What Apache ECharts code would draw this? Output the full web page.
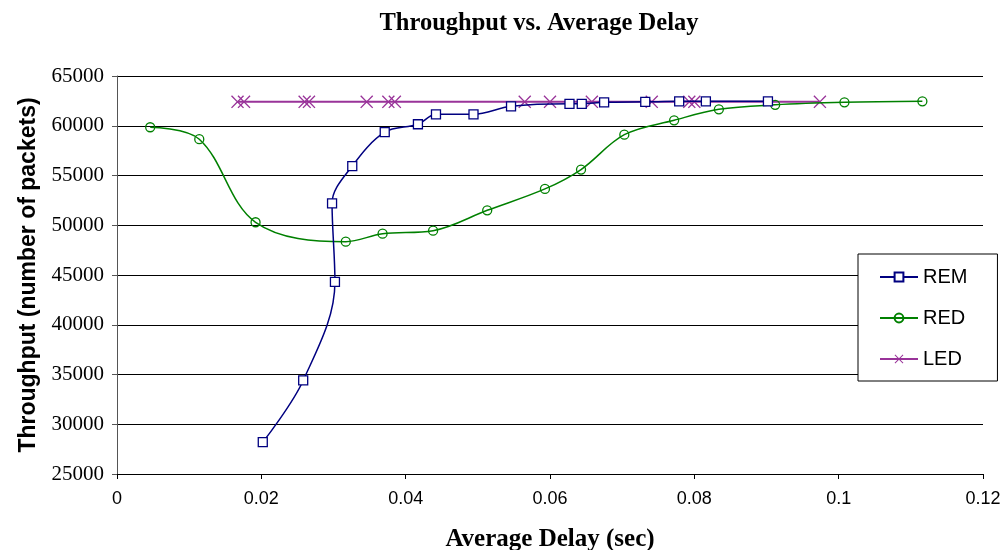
<!DOCTYPE html>
<html>
<head>
<meta charset="utf-8">
<script src="https://cdn.jsdelivr.net/npm/echarts@6/dist/echarts.min.js"></script>
<style>
html,body{margin:0;padding:0;background:#fff;}
#chart{width:1002px;height:550px;}
</style>
</head>
<body>
<div id="chart"></div>
<script>
// ---- data ----
const remX = [0.0202, 0.0258, 0.0302, 0.0298, 0.0326, 0.0371, 0.0417, 0.0442, 0.0494, 0.0546, 0.0627, 0.0644, 0.0675, 0.0732, 0.0779, 0.0816, 0.0902];
const remY = [28200, 34400, 44300, 52200, 55950, 59350, 60150, 61150, 61150, 61950, 62200, 62200, 62350, 62400, 62450, 62450, 62450];

const redX = [0.0046, 0.0114, 0.0192, 0.0317, 0.0368, 0.0438, 0.0513, 0.0593, 0.0643, 0.0703, 0.0772, 0.0834, 0.0912, 0.1008, 0.1116];
const redY = [59850, 58650, 50300, 48350, 49150, 49450, 51500, 53650, 55600, 59100, 60550, 61650, 62100, 62350, 62450];

const ledX = [0.0167, 0.0176, 0.0260, 0.0266, 0.0346, 0.0376, 0.0385, 0.0565, 0.0600, 0.0658, 0.0741, 0.0793, 0.0800, 0.0974];
const ledY = [62400, 62400, 62400, 62400, 62400, 62400, 62400, 62400, 62400, 62400, 62400, 62400, 62400, 62400];

const seriesNames = ['REM', 'RED', 'LED'];
const yTicks = [25000, 30000, 35000, 40000, 45000, 50000, 55000, 60000, 65000];
const xTicks = [0, 0.02, 0.04, 0.06, 0.08, 0.1, 0.12];

const pairs = (xs, ys) => xs.map((x, i) => [x, ys[i]]);

const xSymbol = 'path://M0,1.5L1.5,0L10,8.5L18.5,0L20,1.5L11.5,10L20,18.5L18.5,20L10,11.5L1.5,20L0,18.5L8.5,10Z';

const chart = echarts.init(document.getElementById('chart'), null, {renderer: 'canvas'});
chart.setOption({
  animation: false,
  backgroundColor: '#fff',
  title: {
    text: 'Throughput vs. Average Delay',
    left: 534,
    textAlign: 'center',
    top: 6,
    textStyle: {fontFamily: '"Liberation Serif", "Times New Roman", serif', fontWeight: 'bold', fontSize: 24.5, color: '#000'}
  },
  grid: {left: 117, right: 19, top: 76, bottom: 76, containLabel: false, outerBoundsMode: 'none'},
  legend: {
    orient: 'vertical',
    left: 858,
    top: 254,
    padding: [13, 30, 12, 21],
    itemGap: 21,
    itemWidth: 38,
    itemHeight: 11,
    backgroundColor: '#fff',
    borderColor: '#000',
    borderWidth: 1,
    borderRadius: 0,
    textStyle: {fontFamily: '"Liberation Sans", Arial, sans-serif', fontSize: 20, color: '#000'},
    data: seriesNames
  },
  xAxis: {
    type: 'value',
    min: xTicks[0],
    max: xTicks[xTicks.length - 1],
    interval: 0.02,
    name: 'Average Delay (sec)',
    nameLocation: 'middle',
    nameGap: 53,
    nameTextStyle: {fontFamily: '"Liberation Serif", "Times New Roman", serif', fontWeight: 'bold', fontSize: 25, color: '#000'},
    axisLine: {show: true, onZero: false, lineStyle: {color: '#000', width: 1}},
    axisTick: {show: true, length: 5, inside: false, lineStyle: {color: '#000'}},
    axisLabel: {margin: 16, fontFamily: '"Liberation Sans", Arial, sans-serif', fontSize: 18, color: '#000'},
    splitLine: {show: false}
  },
  yAxis: {
    type: 'value',
    min: yTicks[0],
    max: yTicks[yTicks.length - 1],
    interval: 5000,
    name: 'Throughput (number of packets)',
    nameLocation: 'middle',
    nameGap: 73,
    nameTextStyle: {fontFamily: '"Liberation Sans", Arial, sans-serif', fontWeight: 'bold', fontSize: 23, color: '#000'},
    axisLine: {show: true, lineStyle: {color: '#555', width: 1}},
    axisTick: {show: true, length: 5, inside: false, lineStyle: {color: '#555'}},
    axisLabel: {margin: 13, fontFamily: '"Liberation Serif", "Times New Roman", serif', fontSize: 21, color: '#000', formatter: v => String(v)},
    splitLine: {show: true, lineStyle: {color: '#000', width: 1}}
  },
  series: [
    {
      name: 'REM', type: 'line', smooth: 0.35,
      data: pairs(remX, remY),
      symbol: 'rect', symbolSize: 9,
      itemStyle: {color: '#fff', borderColor: '#000080', borderWidth: 1.3},
      lineStyle: {color: '#000080', width: 1.5},
      z: 4
    },
    {
      name: 'RED', type: 'line', smooth: 0.35,
      data: pairs(redX, redY),
      symbol: 'circle', symbolSize: 9,
      itemStyle: {color: 'rgba(255,255,255,0)', borderColor: '#008000', borderWidth: 1.3},
      lineStyle: {color: '#008000', width: 1.5},
      z: 3
    },
    {
      name: 'LED', type: 'line', smooth: false,
      data: pairs(ledX, ledY),
      symbol: xSymbol, symbolSize: 13,
      itemStyle: {color: '#993399', borderWidth: 0},
      lineStyle: {color: '#993399', width: 2},
      z: 2
    }
  ]
});
</script>
</body>
</html>
